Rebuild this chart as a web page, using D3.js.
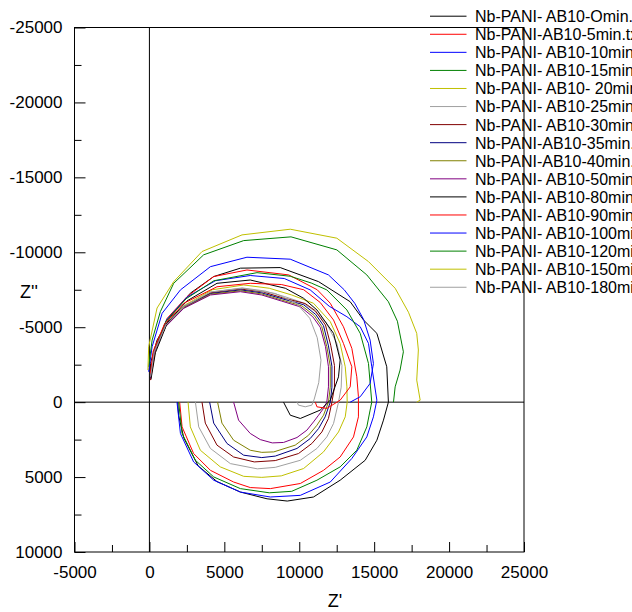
<!DOCTYPE html>
<html>
<head>
<meta charset="utf-8">
<script src="https://cdn.jsdelivr.net/npm/d3@7"></script>
<style>
  body { margin: 0; background: #fff; }
  svg { display: block; font-family: "Liberation Sans", Arial, sans-serif; }
</style>
</head>
<body>
<script>
// Nyquist spectra, [Z', Z''] pairs
const s0 = [[70,-1690],[70,-2590],[510,-4140],[1400,-5700],[2730,-7270],[4290,-8380],[6070,-8940],[8730,-8980],[11290,-8040],[13400,-6700],[14290,-5480],[15180,-4590],[15840,-2360],[15950,0],[15620,1200],[15180,2540],[14400,3880],[12730,5210],[10950,6330],[9200,6600],[7850,6450],[6070,6000],[4510,5300],[3250,4250],[2300,2400],[1950,900],[1890,0]];
const s5 = [[70,-1470],[400,-3480],[1180,-5590],[2510,-7040],[4290,-8380],[6510,-8820],[9300,-8490],[11200,-7500],[12070,-6600],[12950,-5030],[13510,-3590],[13840,-1690],[13950,-360],[13950,980],[13620,2320],[12730,3660],[11620,4550],[10070,5430],[8070,5770],[6730,5700],[5620,5330],[4070,4550],[2950,3430],[2180,1650],[2020,0]];
const s10 = [[60,-1800],[350,-3500],[1150,-5500],[2500,-7000],[4400,-8100],[6730,-8450],[9000,-8250],[10730,-7490],[12000,-6400],[13180,-5700],[14070,-5030],[14620,-3920],[14840,-2360],[15180,-130],[14950,980],[14510,2320],[13510,3760],[12070,5330],[10070,6220],[8070,6330],[6070,6000],[4290,5210],[2950,3990],[2070,2090],[1840,0]];
const s15 = [[60,-1750],[330,-3450],[1100,-5400],[2450,-6900],[4300,-8100],[7180,-8640],[9400,-8400],[10800,-7950],[11840,-7490],[13180,-6150],[14070,-4590],[14620,-2580],[14840,0],[14730,530],[14510,1650],[13840,3210],[12730,4320],[11180,5210],[9500,5950],[8000,6050],[6070,5770],[4290,4990],[3070,3880],[2180,2090],[1950,0]];
const s20 = [[90,-1700],[330,-3400],[1150,-5200],[2400,-6500],[4200,-7500],[6300,-7820],[8000,-7600],[9500,-7150],[10950,-6600],[12070,-5370],[12730,-3920],[13070,-2360],[13180,-1020],[13200,0],[13070,980],[12620,1990],[11620,3320],[10290,4430],[8800,4920],[7500,5020],[6290,4950],[4730,4320],[3400,3210],[2730,1650],[2580,0]];
const s25 = [[80,-1660],[300,-3340],[1100,-5150],[2350,-6420],[4100,-7350],[6200,-7620],[7700,-7420],[9000,-7050],[10200,-6650],[11000,-6100],[11800,-5300],[12500,-3950],[12850,-2450],[12800,-1000],[12620,0],[12290,1420],[11840,2320],[11180,3090],[10070,3880],[8400,4350],[7200,4450],[5400,4100],[4070,3090],[3290,1650],[3070,0]];
const s30 = [[70,-1640],[300,-3320],[1100,-5120],[2320,-6380],[4100,-7300],[6100,-7550],[7600,-7350],[8900,-6960],[10400,-6580],[11070,-6100],[11750,-5150],[12100,-3800],[12350,-2450],[12350,-1000],[12180,0],[11950,1090],[11510,1990],[10840,2760],[9950,3430],[8400,3900],[7000,3990],[5620,3660],[4510,2870],[3730,1400],[3510,0]];
const s35 = [[70,-1620],[300,-3300],[1090,-5090],[2310,-6340],[4090,-7250],[6090,-7490],[7500,-7290],[8850,-6900],[10290,-6500],[11100,-5850],[11620,-5100],[11950,-3750],[12180,-2400],[12180,-1000],[12070,0],[11730,980],[11290,1760],[10730,2430],[9850,3090],[8400,3600],[7500,3700],[6290,3540],[5180,2760],[4290,1400],[4020,0]];
const s40 = [[70,-1600],[300,-3280],[1080,-5060],[2300,-6300],[4080,-7200],[6080,-7430],[7500,-7220],[8800,-6820],[10180,-6420],[11000,-5780],[11500,-5050],[11840,-3700],[12070,-2400],[12070,-1000],[11950,0],[11620,870],[11180,1540],[10620,2210],[9730,2870],[8300,3320],[7500,3350],[6730,3210],[5620,2540],[4840,1400],[4550,0]];
const s50 = [[70,-1580],[290,-3250],[1070,-5030],[2290,-6260],[4070,-7150],[6070,-7370],[7500,-7150],[8800,-6750],[10100,-6350],[10900,-5700],[11400,-5000],[11750,-3700],[11950,-2360],[11950,-1020],[11840,0],[11620,420],[11290,870],[10950,1320],[10510,1870],[9850,2360],[8950,2690],[8200,2720],[7400,2500],[6730,2090],[5950,1200],[5620,0]];
const s80 = [[100,-1500],[400,-3300],[1200,-5300],[2500,-6750],[4510,-7930],[6730,-8150],[9070,-7600],[10290,-6930],[11180,-6150],[12290,-4590],[12730,-2810],[12620,-1690],[12070,-130],[11400,530],[10070,1090],[9400,870],[8950,0]];
const s90 = [[60,-1900],[250,-3400],[1000,-5200],[2300,-6600],[4510,-7700],[6730,-7930],[8800,-7850],[10300,-7500],[11400,-6650],[12290,-5480],[12950,-3920],[13510,-2360],[13400,-1020],[12730,-130],[11840,420],[11180,310],[11070,0]];
const s100 = [[-50,-2030],[180,-3700],[850,-5930],[2070,-7490],[4070,-9040],[6510,-9670],[9400,-9540],[11950,-8490],[13000,-7500],[13700,-6600],[14290,-5530],[14730,-4140],[14950,-2580],[14730,-1250],[14070,-360],[13400,0]];
const s120 = [[-50,-2360],[180,-4140],[730,-6040],[1620,-7930],[3620,-9830],[6290,-10780],[9450,-11030],[12510,-10160],[14510,-8490],[15950,-6700],[16550,-5400],[16950,-3360],[16730,-2140],[16400,-1020],[16290,0]];
const s150 = [[-100,-2140],[-50,-3700],[510,-6280],[1620,-8040],[3510,-10050],[6180,-11160],[9400,-11540],[12510,-10940],[14620,-9380],[16400,-7600],[17290,-6000],[17840,-4590],[17950,-3480],[17840,-1470],[18070,-130],[17840,0]];
const s180 = [[80,-1700],[320,-3350],[1100,-5150],[2350,-6400],[4100,-7350],[6200,-7600],[8400,-7250],[9800,-6600],[10700,-5600],[11200,-4300],[11450,-2800],[11300,-1300],[11000,-200],[10840,200],[10400,310],[9950,200],[9850,0]];

const names = ["Nb-PANI- AB10-Omin.txt","Nb-PANI-AB10-5min.txt","Nb-PANI- AB10-10min.txt","Nb-PANI- AB10-15min.txt",
  "Nb-PANI- AB10- 20min.txt","Nb-PANI- AB10-25min.txt","Nb-PANI- AB10-30min.txt","Nb-PANI-AB10-35min.txt",
  "Nb-PANI-AB10-40min.txt","Nb-PANI- AB10-50min.txt","Nb-PANI- AB10-80min.txt","Nb-PANI- AB10-90min.txt",
  "Nb-PANI- AB10-100min.txt","Nb-PANI- AB10-120min.txt","Nb-PANI- AB10-150min.txt","Nb-PANI- AB10-180min.txt"];
const colors = ["#000000","#ff0000","#0000ff","#008000","#c0c000","#a0a0a0","#800000","#000080",
  "#808000","#800080","#000000","#ff0000","#0000ff","#008000","#c0c000","#a0a0a0"];
const pts = [s0,s5,s10,s15,s20,s25,s30,s35,s40,s50,s80,s90,s100,s120,s150,s180];

const xTicks = [-5000,0,5000,10000,15000,20000,25000];
const yTicks = [-25000,-20000,-15000,-10000,-5000,0,5000,10000];

const series = names.map((n,i)=>({name:n, color:colors[i], pts:pts[i]}));

const W = 632, H = 612;
const svg = d3.select("body").append("svg").attr("width", W).attr("height", H);

const x = d3.scaleLinear().domain([-5000,25000]).range([74.5,524]);
const y = d3.scaleLinear().domain([-25000,10000]).range([27.5,552]);

// minor ticks sit halfway between the majors
const xMinor = xTicks.slice(0,-1).map(v=>v+2500);
const yMinor = yTicks.slice(0,-1).map(v=>v+2500);

const plot = svg.append("g");

// zero lines
plot.append("line").attr("x1", x(0)).attr("x2", x(0)).attr("y1", y.range()[0]).attr("y2", y.range()[1])
  .attr("stroke","#000");
plot.append("line").attr("x1", x.range()[0]).attr("x2", x.range()[1]).attr("y1", y(0)).attr("y2", y(0))
  .attr("stroke","#000");

const line = d3.line().x(d=>x(d[0])).y(d=>y(d[1]));

plot.selectAll("path.trace")
  .data(series)
  .join("path")
  .attr("class","trace")
  .attr("d", d=>line(d.pts))
  .attr("fill","none")
  .attr("stroke", d=>d.color)
  .attr("stroke-width", 1)
  .attr("stroke-linejoin","round");

// frame
svg.append("rect")
  .attr("x", x.range()[0]).attr("y", y.range()[0])
  .attr("width", x.range()[1]-x.range()[0]).attr("height", y.range()[1]-y.range()[0])
  .attr("fill","none").attr("stroke","#000");

// axes, ticks pointing inward; plain hyphen for negatives
const fmt = d=>String(d);
svg.append("g").attr("transform", `translate(0,${y.range()[1]})`)
  .call(d3.axisBottom(x).tickValues(xTicks).tickSize(-10).tickPadding(14).tickFormat(fmt));
svg.append("g").attr("transform", `translate(0,${y.range()[1]})`)
  .call(d3.axisBottom(x).tickValues(xMinor).tickSize(-7).tickFormat(""));
svg.append("g").attr("transform", `translate(${x.range()[0]},0)`)
  .call(d3.axisLeft(y).tickValues(yTicks).tickSize(-11).tickPadding(12).tickFormat(fmt));
svg.append("g").attr("transform", `translate(${x.range()[0]},0)`)
  .call(d3.axisLeft(y).tickValues(yMinor).tickSize(-7).tickFormat(""));

svg.selectAll(".domain").remove();
svg.selectAll(".tick text")
  .attr("font-size", 17)
  .attr("font-family", "Liberation Sans, Arial, sans-serif")
  .attr("fill","#000");

// axis titles
svg.append("text").attr("x", 335).attr("y", 607).attr("text-anchor","middle")
  .attr("font-size", 18).text("Z'");
svg.append("text").attr("x", 20).attr("y", 298)
  .attr("font-size", 18).text("Z''");

// legend (runs off the right edge, as in the original)
const leg = svg.append("g");
const rows = leg.selectAll("g").data(series).join("g")
  .attr("transform", (d,i)=>`translate(0,${16.2 + i*18.07})`);
rows.append("line").attr("x1",430).attr("x2",466.5).attr("y1",0).attr("y2",0)
  .attr("stroke", d=>d.color).attr("stroke-width",1);
rows.append("text").attr("x",475).attr("dy","0.37em")
  .attr("font-size",16).text(d=>d.name);
</script>
</body>
</html>
